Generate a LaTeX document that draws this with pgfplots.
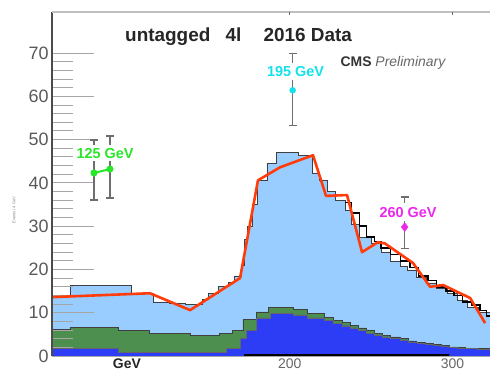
\documentclass[border=0pt]{standalone}
\usepackage{pgfplots}
\pgfplotsset{compat=1.18}
\usepackage{fontspec}
\setmainfont{Liberation Sans}

\definecolor{lightblue}{RGB}{153,204,255}
\definecolor{mcgreen}{RGB}{77,143,79}
\definecolor{mcblue}{RGB}{45,60,245}
\definecolor{fitred}{RGB}{255,60,10}
\definecolor{ptgreen}{RGB}{40,230,40}
\definecolor{ptcyan}{RGB}{20,225,235}
\definecolor{ptmag}{RGB}{235,40,235}
\definecolor{barg}{RGB}{110,110,110}

\begin{document}
\begin{tikzpicture}
\begin{axis}[
  set layers,
  scale only axis, width=438bp, height=344bp,
  xmin=54, xmax=323, ymin=0, ymax=79.5,
  axis line style={draw=none},
  clip=false,
  ytick={0,10,...,70}, minor y tick num=4,
  ytick pos=left, tick align=inside,
  major tick length=42bp, minor tick length=21bp,
  y tick style={color=black!35, line width=1bp},
  xtick={100,200,300},
  xticklabels={\textcolor{black!85}{\textbf{GeV}},200,300},
  x tick style={draw=none},
  xticklabel style={font=\fontsize{14}{14}\selectfont, color=black!60, yshift=1bp},
  yticklabel style={font=\fontsize{18}{18}\selectfont, color=black!65},
  /pgf/number format/assume math mode=true,
]

% stacked expectation: total (light blue)
\addplot[const plot, fill=lightblue, draw=black!75, line width=0.6bp, on layer=axis background]
coordinates {
(54,13.8)(65,16.4)(103,14.6)(116,12.5)(126,12.2)(136,12.0)(146,13.0)(150,14.5)
(156,16.0)(162,17.0)(166,18.5)(170,21.0)(172,27.0)(174,30.0)(177,35.0)(180,40.6)
(186,44.6)(192,47.0)(205,46.4)(214,42.2)(218,40.6)(223,38.0)(228,36.0)(234,33.7)
(238,30.5)(243,27.5)(250,26.0)(256,24.0)(262,22.0)(268,20.8)(272,19.9)(278,18.3)
(284,16.9)(290,15.7)(297,14.5)(303,12.8)(309,11.3)(316,10.0)(323,9.0)
} \closedcycle;

% green component (stacked on blue)
\addplot[const plot, fill=mcgreen, draw=black!75, line width=0.6bp, on layer=axis background]
coordinates {
(54,6.2)(65,6.7)(94.5,6.0)(114,5.3)(139,4.7)(157,5.3)(165,6.0)(171.3,8.5)(179.7,10.2)
(187,11.3)(202,10.8)(211,9.9)(221,9.0)(227,8.3)(232,7.7)(237,7.1)(242,6.5)(247,5.9)
(252,5.3)(257,4.8)(262,4.4)(268,4.0)(273,3.5)(278,3.2)(283,2.9)(288,2.6)(293,2.4)
(298,2.1)(303,1.9)(308,1.8)(315,1.7)(323,1.7)
} \closedcycle;

% blue component
\addplot[const plot, fill=mcblue, draw=black!60, line width=0.4bp, on layer=axis background]
coordinates {
(54,1.8)(94.5,0.9)(161,1.8)(169.5,4.0)(173.5,6.0)(179.7,8.8)(188,9.9)(202,9.5)
(211,8.8)(221,8.2)(227,7.6)(232,7.0)(237,6.5)(242,5.9)(247,5.3)(252,4.9)(257,4.4)
(262,4.0)(268,3.7)(273,3.3)(278,3.0)(283,2.7)(288,2.5)(293,2.2)(298,2.0)(303,1.8)
(308,1.7)(315,1.6)(323,1.6)
} \closedcycle;

% thin dark component at the bottom
\addplot[const plot, fill=black, draw=none, on layer=axis background]
coordinates {(172,0.45)(298,0.45)} \closedcycle;

% observed distribution in the tail
\addplot[const plot, black, line width=1.5bp]
coordinates {
(234,35.5)(238,33)(243,30)(247,27.5)(252,26.5)(256,25)(262,23.5)(268,22)(274,20.5)
(279,18.5)(285,17.5)(290,16)(296,15)(301,14)(306,12.5)(312,11.8)(317,10.5)(321,9.2)(323,9)
};

% fit curve
\addplot[fitred, line width=2.6bp, line join=round]
coordinates {
(54,13.6)(114.2,14.5)(138.8,10.6)(169.5,18.0)(180.5,40.6)(194,43.6)(214.3,46.4)
(222.3,37.0)(235.2,37.2)(244.4,24.0)(254.2,26.3)(258.5,26.0)(275.7,21.5)(286.2,16.0)
(294.2,16.4)(310.8,13.4)(320,7.6)
};

% signal points with uncertainties
\addplot[only marks, mark=-, mark size=0.1bp, barg,
  error bars/.cd, y dir=both, y explicit,
  error bar style={draw=barg, line width=1.5bp},
  error mark options={draw=barg, rotate=90, mark size=4bp, line width=1.5bp}]
coordinates {
(79.8,42.3) += (0,7.6) -= (0,6.3)
(89.6,43.2) += (0,7.6) -= (0,6.7)
(201.8,61.4) += (0,8.5) -= (0,8.1)
(270.6,29.8) += (0,6.9) -= (0,4.9)
};
\addplot[ptgreen, line width=2bp, mark=*, mark size=2.5bp]
coordinates {(79.8,42.3)(89.6,43.2)};
\addplot[only marks, mark=*, mark size=3bp, ptcyan]
coordinates {(201.8,61.4)};
\addplot[only marks, mark=diamond*, mark size=4.5bp, ptmag]
coordinates {(270.6,29.8)};

% mass labels
\node[fill=white, inner xsep=1bp, inner ysep=3bp, text=ptgreen,
  font=\bfseries\fontsize{14.5}{14.5}\selectfont] at (axis cs:86.6,46.9) {125 GeV};
\node[fill=white, inner xsep=1bp, inner ysep=3.5bp, text=ptcyan,
  font=\bfseries\fontsize{14.5}{14.5}\selectfont] at (axis cs:203.6,65.7) {195 GeV};
\node[fill=white, inner xsep=1bp, inner ysep=4bp, text=ptmag,
  font=\bfseries\fontsize{14.5}{14.5}\selectfont] at (axis cs:272.7,33.2) {260 GeV};

% titles
\node[anchor=base west, font=\bfseries\fontsize{19}{19}\selectfont, text=black!85]
  at (axis cs:96.8,72.6) {untagged};
\node[anchor=base west, font=\bfseries\fontsize{19}{19}\selectfont, text=black!85]
  at (axis cs:158.4,72.6) {4l};
\node[anchor=base west, font=\bfseries\fontsize{19}{19}\selectfont, text=black!85]
  at (axis cs:181.8,72.6) {2016 Data};
\node[anchor=base west, font=\fontsize{14}{14}\selectfont, text=black!80]
  at (axis cs:229.1,66.8) {\textbf{CMS} \textcolor{black!60}{\textit{Preliminary}}};

% y axis title
\node[rotate=90, font=\fontsize{4}{4}\selectfont, text=black!50]
  at (axis cs:30.7,33.7) {Events / 4 GeV};

% frame
\draw[black!70, line width=2.5bp] (rel axis cs:0,0) -- (rel axis cs:0,1);
\draw[black!25, line width=2.5bp] (rel axis cs:0,1) -- (rel axis cs:1,1);
\draw[black!35, line width=0.8bp] (rel axis cs:0,0) -- (rel axis cs:1,0);
\draw[black!60, line width=1.5bp] (axis cs:200,79.5) -- (axis cs:200,78.7);
\draw[black!60, line width=1.5bp] (axis cs:300,79.5) -- (axis cs:300,78.7);
\end{axis}
\pgfresetboundingbox
\path[use as bounding box] ([shift={(-52bp,-15bp)}]current axis.south west)
  rectangle ([shift={(0bp,12bp)}]current axis.north east);
\end{tikzpicture}
\end{document}
